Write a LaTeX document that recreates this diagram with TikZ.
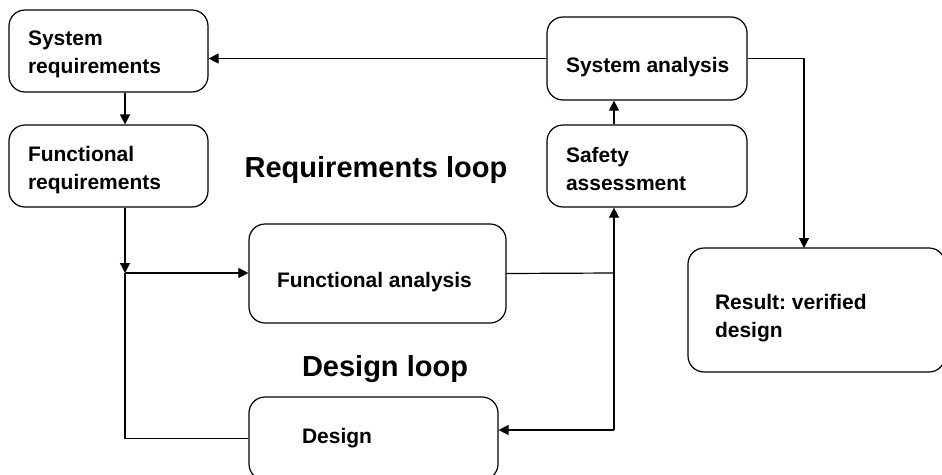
\documentclass[tikz,border=0pt]{standalone}
\usepackage{fontspec}
\setmainfont{Liberation Sans}
\usetikzlibrary{arrows.meta,positioning,calc}
\frenchspacing

\begin{document}
\begin{tikzpicture}[x=1pt,y=-1pt,
        box/.style={draw,rounded corners=16pt,line width=1.2pt,align=flush left,
                    font=\fontsize{21}{28}\selectfont\bfseries,inner ysep=0pt},
        txtdown/.style={execute at begin node={\rule{0pt}{#1}}},
        looplbl/.style={font=\fontsize{29}{34}\selectfont\bfseries,anchor=base},
        arr/.style={line width=1.2pt,-{Triangle[length=10pt,width=10pt]}},
        ln/.style={line width=1.2pt}
      ]
        \useasboundingbox (0,0) rectangle (942,474);
        \clip (0,0) rectangle (942,474);
        \node[box,text width=161pt,inner xsep=19pt,minimum height=82pt,txtdown=21.5pt] (sysreq) at (108.5,51) {System\\requirements};
        \node[box,text width=161pt,inner xsep=19pt,minimum height=82pt,txtdown=23.5pt] (funcreq) at (108.5,166) {Functional\\requirements};
        \node[box,text width=162pt,inner xsep=19pt,minimum height=83pt,txtdown=31.5pt] (sysana) at (647,58.5) {\mbox{System analysis}};
        \node[box,text width=162pt,inner xsep=19pt,minimum height=82pt,txtdown=21.5pt] (safety) at (647,166) {Safety\\assessment};
        \node[box,text width=201pt,inner xsep=28pt,minimum height=99pt,txtdown=31.5pt] (funcana) at (377.5,273.5) {Functional analysis};
        \node[box,text width=143pt,inner xsep=53pt,minimum height=83pt] (design) at (373.5,438.5) {Design};
        \node[box,text width=203pt,inner xsep=27pt,minimum height=124pt,txtdown=31.5pt] (result) at (816.5,310) {Result: verified\\design};
        \node[looplbl] (reqloop) at (376,177) {Requirements loop};
        \node[looplbl] (desloop) at (385,376) {Design loop};
        \coordinate (jl) at (125,273);
        \coordinate (jr) at (614,273);
        \coordinate (jd) at (614,430);
        \coordinate (rin) at (804,248);
        \draw[arr] (sysana.west) -- (sysana.west -| sysreq.east);
        \draw[arr] (sysreq.south -| jl) -- (funcreq.north -| jl);
        \draw[arr] (funcreq.south -| jl) -- (jl);
        \draw[arr] (jl) -- (jl -| funcana.west);
        \draw[ln] (jl) |- (design.west);
        \draw[ln] (funcana.east) -- (jr);
        \draw[arr] (jd) -- (jd |- safety.south);
        \draw[arr] (jd) -- (jd -| design.east);
        \draw[arr] (safety.north -| jd) -- (sysana.south -| jd);
        \draw[arr] (sysana.east) -| (rin);
      \end{tikzpicture}
\end{document}
